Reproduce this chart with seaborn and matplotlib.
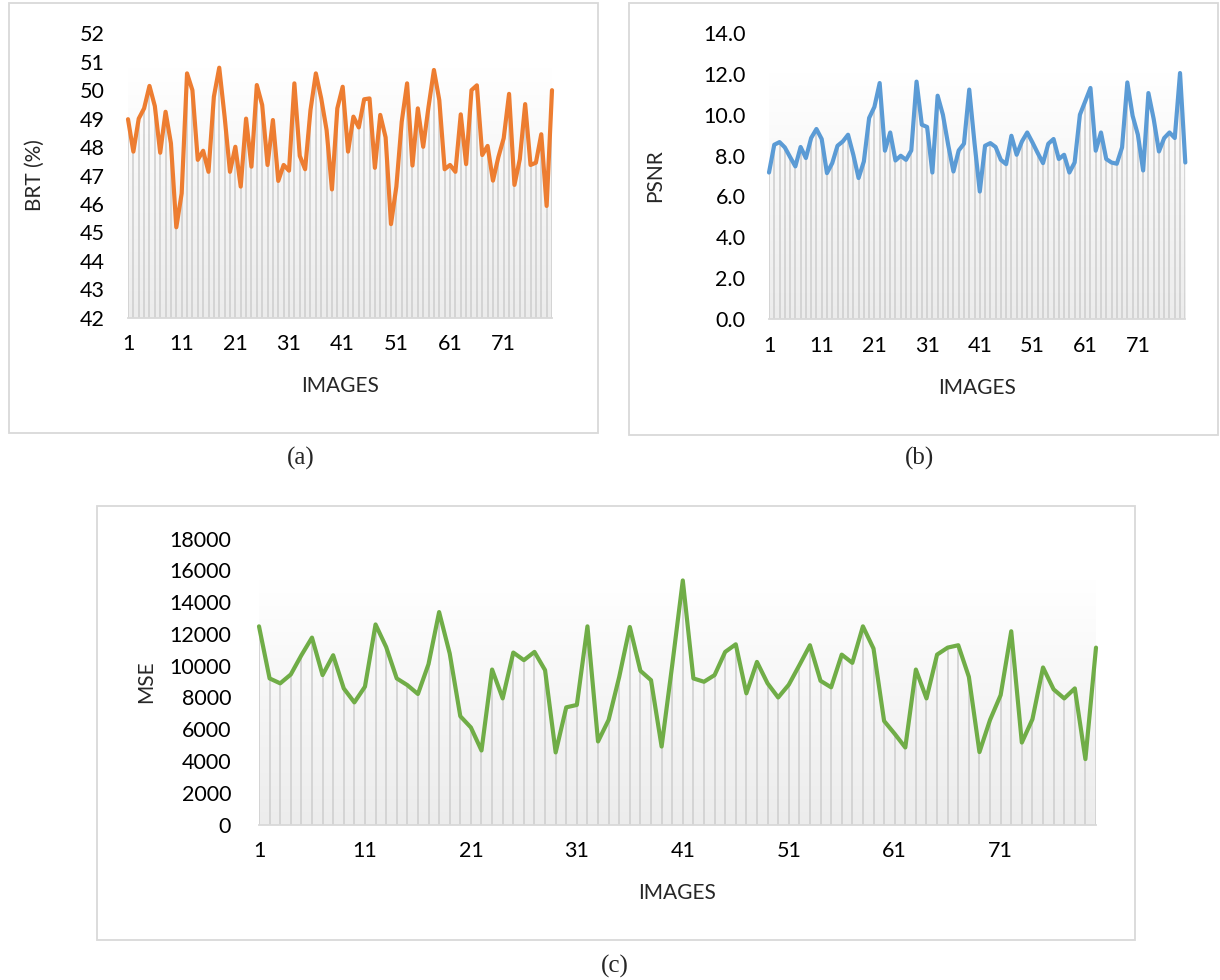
import numpy as np
import pandas as pd
import matplotlib
matplotlib.use('Agg')
import matplotlib.pyplot as plt
from matplotlib.colors import LinearSegmentedColormap
from matplotlib.patches import Rectangle
import seaborn as sns

# data (80 images per panel)
images = np.arange(1, 81)
xtick_labels = [1, 11, 21, 31, 41, 51, 61, 71]

brt = [48.98, 47.84, 49.0, 49.36, 50.15, 49.44, 47.8, 49.24, 48.13, 45.18,
       46.37, 50.59, 50.0, 47.55, 47.87, 47.13, 49.77, 50.79, 49.07, 47.13,
       48.01, 46.61, 49.0, 47.31, 50.18, 49.48, 47.37, 48.95, 46.81, 47.37,
       47.17, 50.24, 47.69, 47.22, 49.30, 50.59, 49.71, 48.6, 46.51, 49.36,
       50.12, 47.84, 49.07, 48.69, 49.68, 49.71, 47.27, 49.13, 48.34, 45.29,
       46.61, 48.89, 50.24, 47.35, 49.36, 48.01, 49.42, 50.71, 49.65, 47.22,
       47.37, 47.13, 49.15, 47.4, 50.0, 50.17, 47.72, 48.04, 46.82, 47.64,
       48.31, 49.87, 46.67, 47.57, 49.51, 47.37, 47.45, 48.45, 45.93, 50.0]

psnr = [7.17, 8.53, 8.66, 8.40, 7.93, 7.47, 8.42, 7.88, 8.86, 9.30,
        8.81, 7.14, 7.63, 8.48, 8.69, 9.02, 8.04, 6.90, 7.71, 9.84,
        10.38, 11.55, 8.24, 9.13, 7.76, 7.99, 7.79, 8.25, 11.62, 9.51,
        9.40, 7.17, 10.93, 10.0, 8.53, 7.22, 8.25, 8.58, 11.23, 8.61,
        6.24, 8.48, 8.61, 8.42, 7.79, 7.58, 8.97, 8.04, 8.69, 9.13,
        8.64, 8.12, 7.63, 8.58, 8.81, 7.83, 8.04, 7.17, 7.66, 10.0,
        10.65, 11.31, 8.24, 9.13, 7.83, 7.66, 7.60, 8.40, 11.58, 9.95,
        9.02, 7.27, 11.06, 9.79, 8.20, 8.86, 9.13, 8.86, 12.04, 7.66]

mse = [12480, 9200, 8890, 9450, 10660, 11770, 9410, 10660, 8570, 7690,
       8680, 12600, 11180, 9200, 8780, 8220, 10100, 13380, 10770, 6820,
       6110, 4660, 9760, 7940, 10830, 10350, 10870, 9720, 4540, 7380,
       7530, 12480, 5230, 6590, 9300, 12440, 9680, 9090, 4910, 10030,
       15370, 9200, 8990, 9410, 10870, 11350, 8260, 10240, 8890, 8000,
       8800, 10030, 11290, 9050, 8640, 10700, 10180, 12480, 11080, 6520,
       5710, 4850, 9760, 7940, 10700, 11140, 11290, 9300, 4560, 6590,
       8150, 12170, 5160, 6630, 9890, 8510, 7940, 8570, 4120, 11140]

sns.set_style("white")
plt.rcParams['font.family'] = ['Lato', 'DejaVu Sans']

W, H = 1220, 980
fig = plt.figure(figsize=(W / 100, H / 100), dpi=100)

def px_axes(left, right, top, bottom):
    # pixel box -> figure fraction
    return [left / W, 1 - bottom / H, (right - left) / W, (bottom - top) / H]

grad_cmap = LinearSegmentedColormap.from_list('g', ['#ffffff', '#ececec'])

def panel(rect, values, color, ymin, ymax, step, ylabel, fmt, ylab_x, ypad):
    ax = fig.add_axes(rect)
    df = pd.DataFrame({'img': images, 'val': values})
    top = max(values)
    # soft gray gradient behind the drop lines
    grad = np.linspace(0, 1, 256).reshape(-1, 1)
    ax.imshow(grad, extent=[1, 80, ymin, top], aspect='auto', cmap=grad_cmap,
              origin='upper', zorder=0)
    ax.vlines(df.img, ymin, df.val, color='#d0d0d0', lw=1.2, zorder=1)
    sns.lineplot(data=df, x='img', y='val', color=color, lw=3.0, ax=ax, zorder=3,
                 solid_joinstyle='round', solid_capstyle='round', clip_on=False)
    ax.set_xlim(1, 80)
    ax.set_ylim(ymin, ymax)
    ax.set_yticks(np.arange(ymin, ymax + step / 2, step))
    ax.yaxis.set_major_formatter(plt.FormatStrFormatter(fmt))
    ax.set_xticks(xtick_labels)
    ax.set_xticklabels([str(t) for t in xtick_labels])
    ax.tick_params(length=0, labelsize=15.5, colors='black')
    ax.tick_params(axis='x', pad=12)
    ax.tick_params(axis='y', pad=ypad)
    for s in ['left', 'right', 'top']:
        ax.spines[s].set_visible(False)
    ax.spines['bottom'].set_color('#d9d9d9')
    ax.spines['bottom'].set_linewidth(1.3)
    ax.spines['bottom'].set_zorder(2)
    ax.set_xlabel('IMAGES', fontsize=15)
    ax.set_ylabel(ylabel, fontsize=15)
    ax.xaxis.label.set_va('center')
    ax.yaxis.label.set_va('center')
    ax.xaxis.set_label_coords(0.5, -0.24)
    ax.yaxis.set_label_coords(ylab_x, 0.5)
    ax.set_facecolor('none')
    return ax

panel(px_axes(128, 552, 33.3, 317.7), brt, '#ED7D31', 42, 52, 1,
      'BRT (%)', '%d', -0.219, 17)
panel(px_axes(769, 1185.3, 33, 319), psnr, '#5B9BD5', 0, 14, 2,
      'PSNR', '%.1f', -0.274, 17)
panel(px_axes(259, 1096, 538.7, 824.5), mse, '#70AD47', 0, 18000, 2000,
      'MSE', '%d', -0.135, 20)

# light gray frames around each chart
for (l, t, r, b) in [(9, 3, 598, 433), (629, 3, 1218, 435), (97, 506, 1135, 940)]:
    fig.add_artist(Rectangle((l / W, 1 - b / H), (r - l) / W, (b - t) / H,
                             transform=fig.transFigure, fill=False,
                             edgecolor='#d9d9d9', lw=1.3))

for txt, x, y in [('(a)', 301, 458), ('(b)', 920, 458), ('(c)', 615, 966)]:
    fig.text(x / W, 1 - y / H, txt, ha='center', va='center', fontsize=18,
             family=['Liberation Serif', 'DejaVu Serif'])

fig.savefig('out.png', dpi=100)
